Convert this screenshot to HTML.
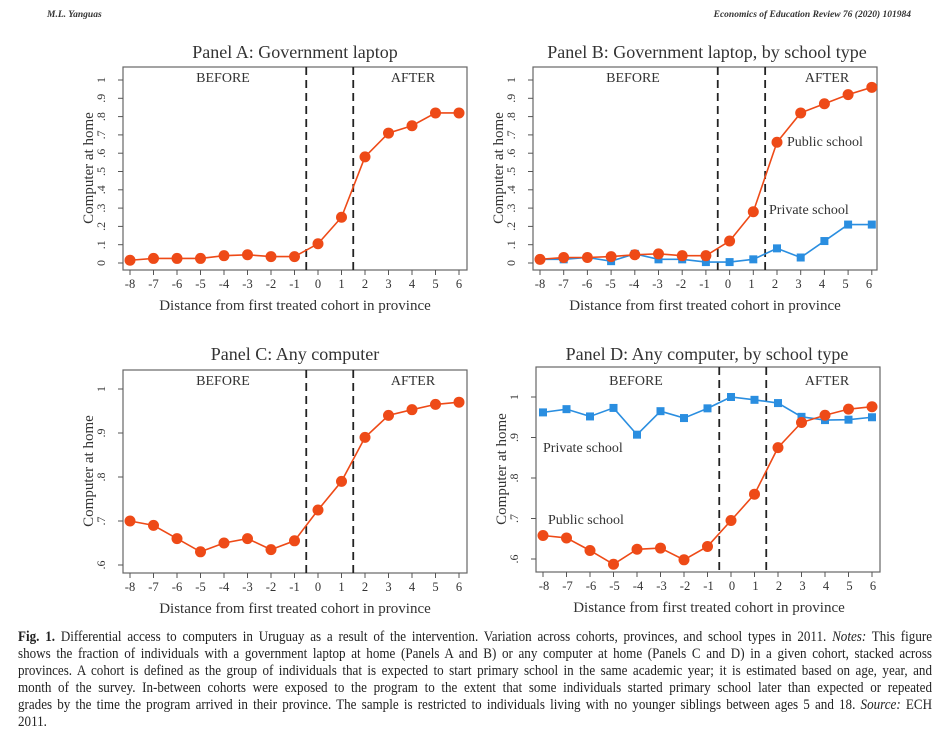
<!DOCTYPE html>
<html><head><meta charset="utf-8"><style>
body{margin:0;width:951px;height:709px;background:#fff;overflow:hidden;position:relative;font-family:"Liberation Serif",serif}
.hd{position:absolute;top:10px;font-size:9.5px;font-style:italic;font-weight:bold;color:#333}
#cap{position:absolute;left:18px;top:629px;width:1000px;font-size:14.3px;line-height:17px;color:#222;font-family:"Liberation Serif",serif;transform:scaleX(0.914);transform-origin:0 0}
#cap div{text-align:justify;text-align-last:justify;white-space:nowrap;overflow:visible}
svg text{font-family:"Liberation Serif",serif;fill:#333}
</style></head><body>
<div class="hd" style="left:47px">M.L. Yanguas</div>
<div class="hd" style="right:40px">Economics of Education Review 76 (2020) 101984</div>
<svg width="951" height="630" style="position:absolute;left:0;top:0">
<defs>
<g id="xt" font-size="12.5" text-anchor="middle">
<text x="7" y="221">-8</text><text x="30.5" y="221">-7</text><text x="54" y="221">-6</text><text x="77.5" y="221">-5</text><text x="101" y="221">-4</text><text x="124.5" y="221">-3</text><text x="148" y="221">-2</text><text x="171.5" y="221">-1</text><text x="195" y="221">0</text><text x="218.5" y="221">1</text><text x="242" y="221">2</text><text x="265.5" y="221">3</text><text x="289" y="221">4</text><text x="312.5" y="221">5</text><text x="336" y="221">6</text>
<text x="172" y="243" font-size="15">Distance from first treated cohort in province</text>
</g>
</defs>
<text x="295" y="58" font-size="18" text-anchor="middle">Panel A: Government laptop</text>
<text x="707" y="58" font-size="18" text-anchor="middle">Panel B: Government laptop, by school type</text>
<text x="295" y="360" font-size="18" text-anchor="middle">Panel C: Any computer</text>
<text x="707" y="360" font-size="18" text-anchor="middle">Panel D: Any computer, by school type</text>
<g id="pA" transform="translate(123,67)"></g>
<g id="pB" transform="translate(533,67)"></g>
<g id="pC" transform="translate(123,370)"></g>
<g id="pD" transform="translate(536,367)"></g>
<g transform="translate(123,67)"><use href="#xt"/>
<text x="100" y="15" font-size="14" text-anchor="middle">BEFORE</text><text x="290" y="15" font-size="14" text-anchor="middle">AFTER</text>
<text transform="translate(-30,101) rotate(-90)" font-size="15" text-anchor="middle">Computer at home</text>
<g font-size="12" text-anchor="middle">
<text transform="translate(-18,196) rotate(-90)">0</text><text transform="translate(-18,177.7) rotate(-90)">.1</text><text transform="translate(-18,159.4) rotate(-90)">.2</text><text transform="translate(-18,141.1) rotate(-90)">.3</text><text transform="translate(-18,122.8) rotate(-90)">.4</text><text transform="translate(-18,104.5) rotate(-90)">.5</text><text transform="translate(-18,86.2) rotate(-90)">.6</text><text transform="translate(-18,67.9) rotate(-90)">.7</text><text transform="translate(-18,49.6) rotate(-90)">.8</text><text transform="translate(-18,31.3) rotate(-90)">.9</text><text transform="translate(-18,13) rotate(-90)">1</text></g></g>
<g transform="translate(533,67)"><use href="#xt"/>
<text x="100" y="15" font-size="14" text-anchor="middle">BEFORE</text><text x="294" y="15" font-size="14" text-anchor="middle">AFTER</text>
<text x="254" y="79" font-size="14">Public school</text><text x="236" y="147" font-size="14">Private school</text>
<text transform="translate(-30,101) rotate(-90)" font-size="15" text-anchor="middle">Computer at home</text>
<g font-size="12" text-anchor="middle">
<text transform="translate(-18,196) rotate(-90)">0</text><text transform="translate(-18,177.7) rotate(-90)">.1</text><text transform="translate(-18,159.4) rotate(-90)">.2</text><text transform="translate(-18,141.1) rotate(-90)">.3</text><text transform="translate(-18,122.8) rotate(-90)">.4</text><text transform="translate(-18,104.5) rotate(-90)">.5</text><text transform="translate(-18,86.2) rotate(-90)">.6</text><text transform="translate(-18,67.9) rotate(-90)">.7</text><text transform="translate(-18,49.6) rotate(-90)">.8</text><text transform="translate(-18,31.3) rotate(-90)">.9</text><text transform="translate(-18,13) rotate(-90)">1</text></g></g>
<g transform="translate(123,370)"><use href="#xt"/>
<text x="100" y="15" font-size="14" text-anchor="middle">BEFORE</text><text x="290" y="15" font-size="14" text-anchor="middle">AFTER</text>
<text transform="translate(-30,101) rotate(-90)" font-size="15" text-anchor="middle">Computer at home</text>
<g font-size="12" text-anchor="middle">
<text transform="translate(-18,195) rotate(-90)">.6</text><text transform="translate(-18,151) rotate(-90)">.7</text><text transform="translate(-18,107) rotate(-90)">.8</text><text transform="translate(-18,63) rotate(-90)">.9</text><text transform="translate(-18,19) rotate(-90)">1</text></g></g>
<g transform="translate(536,367)"><use href="#xt" transform="translate(1,2)"/>
<text x="100" y="18" font-size="14" text-anchor="middle">BEFORE</text><text x="291" y="18" font-size="14" text-anchor="middle">AFTER</text>
<text x="7" y="85" font-size="14">Private school</text><text x="12" y="157" font-size="14">Public school</text>
<text transform="translate(-30,102) rotate(-90)" font-size="15" text-anchor="middle">Computer at home</text>
<g font-size="12" text-anchor="middle">
<text transform="translate(-18,192) rotate(-90)">.6</text><text transform="translate(-18,151.5) rotate(-90)">.7</text><text transform="translate(-18,111) rotate(-90)">.8</text><text transform="translate(-18,70.5) rotate(-90)">.9</text><text transform="translate(-18,30) rotate(-90)">1</text></g></g>
</svg>
<div id="cap">
<div><b>Fig. 1.</b> Differential access to computers in Uruguay as a result of the intervention. Variation across cohorts, provinces, and school types in 2011. <i>Notes:</i> This figure</div>
<div>shows the fraction of individuals with a government laptop at home (Panels A and B) or any computer at home (Panels C and D) in a given cohort, stacked across</div>
<div>provinces. A cohort is defined as the group of individuals that is expected to start primary school in the same academic year; it is estimated based on age, year, and</div>
<div>month of the survey. In-between cohorts were exposed to the program to the extent that some individuals started primary school later than expected or repeated</div>
<div>grades by the time the program arrived in their province. The sample is restricted to individuals living with no younger siblings between ages 5 and 18. <i>Source:</i> ECH</div>
<div style="text-align-last:left">2011.</div>
</div>
<script>
var NS="http://www.w3.org/2000/svg";
function el(p,t,a){var e=document.createElementNS(NS,t);for(var k in a)e.setAttribute(k,a[k]);p.appendChild(e);return e;}
function panel(id,h,y0,v0,y1,v1,ticks,series,dx){
 var g=document.getElementById(id);dx=dx||23.5;
 el(g,"rect",{x:0,y:0,width:344,height:h,fill:"none",stroke:"#666","stroke-width":1.2});
 var Y=function(v){return y0+(v-v0)*(y1-y0)/(v1-v0)};
 ticks.forEach(function(t){el(g,"line",{x1:-5,x2:0,y1:Y(t),y2:Y(t),stroke:"#555"});});
 for(var i=0;i<15;i++){var x=7+i*dx;el(g,"line",{x1:x,x2:x,y1:h,y2:h+5,stroke:"#555"});}
 [7+7.5*dx,7+9.5*dx].forEach(function(x){el(g,"line",{x1:x,x2:x,y1:0,y2:h,stroke:"#222","stroke-width":1.8,"stroke-dasharray":"8,5"});});
 series.forEach(function(s){
  var pts=s.d.map(function(v,i){return [7+i*dx,Y(v)]});
  el(g,"polyline",{points:pts.map(function(p){return p.join(",")}).join(" "),fill:"none",stroke:s.c,"stroke-width":1.6});
  pts.forEach(function(p){ if(s.sq) el(g,"rect",{x:p[0]-4,y:p[1]-4,width:8,height:8,fill:s.c});
   else el(g,"circle",{cx:p[0],cy:p[1],r:5.5,fill:s.c});});
 });
}
var O="#ee4a17",B="#2a8ee0";
var t01=[0,.1,.2,.3,.4,.5,.6,.7,.8,.9,1];
panel("pA",203,196,0,13,1,t01,[{c:O,d:[.015,.025,.025,.025,.04,.045,.035,.035,.105,.25,.58,.71,.75,.82,.82]}]);
panel("pB",203,196,0,13,1,t01,[{c:B,sq:1,d:[.02,.02,.03,.01,.05,.02,.02,.005,.005,.02,.08,.03,.12,.21,.21]},{c:O,d:[.02,.03,.03,.035,.045,.05,.04,.04,.12,.28,.66,.82,.87,.92,.96]}],23.7);
panel("pC",203,195,.6,19,1,[.6,.7,.8,.9,1],[{c:O,d:[.70,.69,.66,.63,.65,.66,.635,.655,.725,.79,.89,.94,.953,.965,.97]}]);
panel("pD",205,192,.6,30,1,[.6,.7,.8,.9,1],[{c:B,sq:1,d:[.962,.97,.952,.973,.907,.965,.948,.972,1.0,.993,.985,.951,.943,.944,.95]},{c:O,d:[.658,.652,.621,.587,.624,.627,.598,.631,.695,.76,.875,.937,.955,.97,.976]}],23.5);
</script>
</body></html>
